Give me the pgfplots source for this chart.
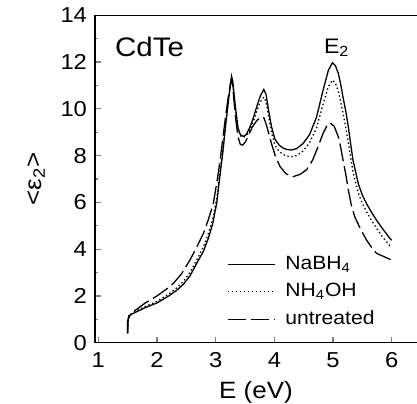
\documentclass[border=0pt]{standalone}
\usepackage{fontspec}
\setmainfont{Liberation Sans}[FakeStretch=1.1]
\usepackage{pgfplots}
\pgfplotsset{compat=1.18}

% eps_2 spectra of CdTe after different surface treatments
\pgfplotstableread{
x y
1.50 0.40
1.50 0.90
1.52 1.15
1.60 1.26
1.80 1.50
2.00 1.70
2.20 2.00
2.34 2.25
2.45 2.50
2.56 2.85
2.70 3.50
2.79 3.90
2.88 4.50
2.95 5.10
3.02 6.00
3.07 7.10
3.12 8.10
3.17 9.30
3.22 10.40
3.25 11.00
3.27 11.40
3.29 11.20
3.31 10.70
3.34 10.00
3.38 9.20
3.42 8.90
3.47 8.82
3.52 8.90
3.58 9.20
3.64 9.60
3.70 10.10
3.76 10.55
3.82 10.83
3.86 10.60
3.90 9.95
3.95 9.25
4.01 8.70
4.08 8.45
4.15 8.32
4.22 8.26
4.29 8.24
4.38 8.30
4.49 8.52
4.60 8.90
4.72 9.66
4.83 10.80
4.92 11.65
4.99 11.97
5.04 11.85
5.09 11.51
5.13 11.05
5.17 10.50
5.22 9.85
5.26 9.23
5.30 8.50
5.34 7.80
5.43 6.80
5.50 6.30
5.57 5.95
5.65 5.60
5.74 5.24
5.85 4.85
5.97 4.46
6.00 4.38
}\nabh

\pgfplotstableread{
x y
1.50 0.40
1.50 0.95
1.53 1.18
1.60 1.30
1.80 1.55
2.00 1.77
2.20 2.08
2.34 2.35
2.45 2.62
2.56 3.00
2.70 3.65
2.79 4.10
2.88 4.70
2.95 5.30
3.02 6.20
3.07 7.25
3.12 8.25
3.17 9.40
3.22 10.45
3.25 11.00
3.27 11.30
3.29 11.10
3.31 10.60
3.34 9.95
3.38 9.15
3.42 8.85
3.47 8.78
3.52 8.85
3.58 9.10
3.64 9.45
3.70 9.90
3.76 10.30
3.82 10.50
3.86 10.30
3.90 9.70
3.95 9.00
4.01 8.45
4.08 8.18
4.15 8.05
4.22 7.98
4.29 7.95
4.38 8.00
4.49 8.20
4.60 8.55
4.72 9.20
4.83 10.20
4.92 10.95
4.99 11.23
5.04 11.10
5.09 10.75
5.13 10.30
5.17 9.80
5.22 9.15
5.26 8.55
5.30 7.90
5.34 7.30
5.43 6.40
5.50 5.95
5.57 5.60
5.65 5.25
5.74 4.90
5.85 4.50
5.97 4.14
6.00 4.08
}\nhoh

\pgfplotstableread{
x y
1.50 0.45
1.51 1.00
1.55 1.22
1.65 1.42
1.80 1.70
2.00 2.00
2.15 2.27
2.28 2.54
2.42 2.95
2.56 3.53
2.68 4.10
2.79 4.67
2.88 5.30
2.96 5.96
3.03 7.00
3.08 7.90
3.13 8.90
3.18 9.90
3.22 10.60
3.25 11.05
3.27 11.25
3.29 11.00
3.31 10.40
3.34 9.60
3.38 8.80
3.42 8.48
3.46 8.45
3.51 8.60
3.56 8.88
3.62 9.20
3.70 9.50
3.78 9.66
3.82 9.62
3.86 9.35
3.91 8.90
3.95 8.52
4.02 7.95
4.10 7.52
4.20 7.22
4.32 7.10
4.44 7.20
4.55 7.40
4.65 7.80
4.72 8.23
4.83 8.95
4.90 9.30
4.95 9.40
5.02 9.25
5.09 8.80
5.13 8.35
5.17 7.81
5.22 7.15
5.26 6.53
5.31 5.90
5.37 5.38
5.47 4.85
5.57 4.39
5.65 4.10
5.74 3.82
5.87 3.68
6.00 3.53
}\untreated

\begin{document}
\begin{tikzpicture}
\path[use as bounding box] (-47.5pt,-30.15pt) rectangle (161pt,171.35pt);
\begin{axis}[
    at={(0,0)}, anchor=south west,
    scale only axis,
    width=161pt, height=163.7pt,
    xmin=0.944, xmax=6.43,
    ymin=0, ymax=14,
    axis x line*=box,
    axis y line*=left,
    axis line style={-, line width=0.7pt},
    xtick={1,2,3,4,5,6},
    ytick={0,2,4,6,8,10,12,14},
    xtick pos=left,
    minor y tick num=1,
    tick align=inside,
    major tick length=2.8pt,
    minor tick length=1.5pt,
    tick style={line width=0.6pt},
    /pgf/number format/assume math mode=true,
    ticklabel style={font=\fontsize{10.8}{12}\selectfont},
    xticklabel style={yshift=-1.5pt},
    yticklabel style={xshift=-0.5pt},
    xlabel={E (eV)},
    ylabel={<ε\textsubscript{2}>},
    ylabel style={yshift=1pt},
    label style={font=\fontsize{11.8}{13}\selectfont},
    legend style={at={(0.39,0.29)}, anchor=north west, draw=none, fill=none,
        font=\fontsize{9.6}{11}\selectfont, row sep=1.5pt, column sep=3pt},
    legend cell align=left,
    legend image code/.code={\draw[#1] (0pt,0pt) -- (23.5pt,0pt);},
    no markers,
    every axis plot/.append style={black, line width=0.65pt},
]
\addplot[black, solid] table {\nabh};
\addlegendentry{NaBH\textsubscript{4}}
\addplot[black, dash pattern=on 0.7pt off 1.3pt] table {\nhoh};
\addlegendentry{NH\textsubscript{4}OH}
\addplot[black, dash pattern=on 9pt off 2.5pt] table {\untreated};
\addlegendentry{untreated}

\node[anchor=base west, inner sep=0pt, font=\fontsize{13.4}{14}\selectfont] at (axis cs:1.28,12.22) {CdTe};
\node[anchor=base west, inner sep=0pt, font=\fontsize{10.5}{12}\selectfont] at (axis cs:4.84,12.37) {E\textsubscript{2}};
\end{axis}
\end{tikzpicture}
\end{document}
